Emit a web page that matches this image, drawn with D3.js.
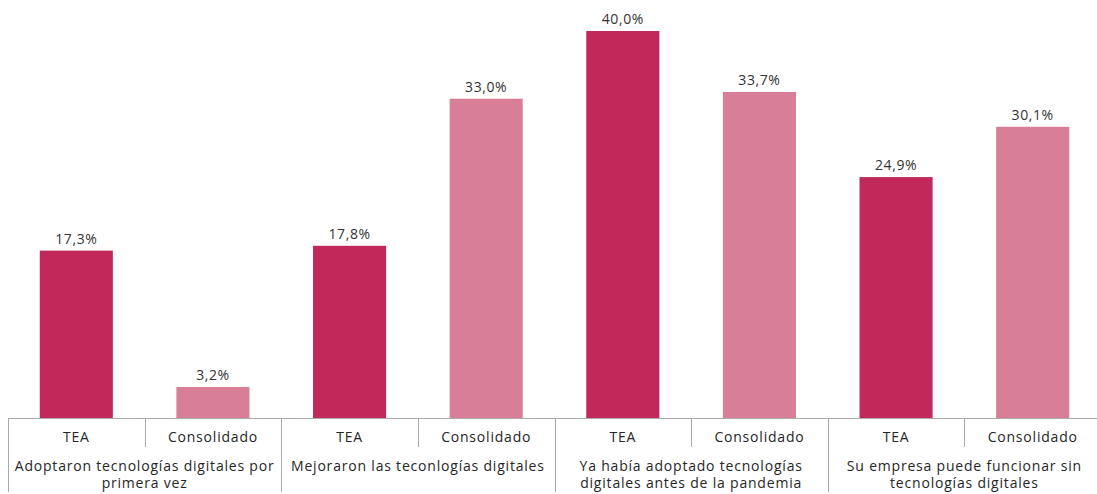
<!DOCTYPE html>
<html><head><meta charset="utf-8">
<script src="https://cdn.jsdelivr.net/npm/d3@7"></script>
<style>body{margin:0;background:#fff;}svg{display:block;font-family:"Open Sans",sans-serif;}</style>
</head><body><svg id="c" width="1097" height="494"></svg>
<script>
const groups = ["Adoptaron tecnologías digitales por\nprimera vez","Mejoraron las teconlogías digitales","Ya había adoptado tecnologías\ndigitales antes de la pandemia","Su empresa puede funcionar sin\ntecnologías digitales"];
const seriesNames = ["TEA","Consolidado"];
const teaValues = [17.3, 17.8, 40.0, 24.9];
const consolidadoValues = [3.2, 33.0, 33.7, 30.1];
const colors = ["#C0295A","#D87E97"];

const svg = d3.select("#c");
const mLeft = 8, mRight = 1101, base = 418, mTop = 31;
const x0 = d3.scaleBand().domain(groups).range([mLeft, mRight]).padding(0);
const x1 = d3.scaleBand().domain(seriesNames).range([0, x0.bandwidth()]).padding(0);
const y = d3.scaleLinear().domain([0, 40]).range([base, mTop]);
const barW = x1.bandwidth() * 0.535;
const fmt = v => d3.format(".1f")(v).replace(".", ",") + "%";

const data = [];
groups.forEach((g, i) => {
  data.push({g, s: "TEA", v: teaValues[i], c: colors[0]});
  data.push({g, s: "Consolidado", v: consolidadoValues[i], c: colors[1]});
});

const gb = svg.append("g");
gb.selectAll("rect").data(data).join("rect")
  .attr("x", d => x0(d.g) + x1(d.s) + (x1.bandwidth() - barW) / 2)
  .attr("width", barW)
  .attr("y", d => y(d.v))
  .attr("height", d => base - y(d.v))
  .attr("fill", d => d.c);

gb.selectAll("text").data(data).join("text")
  .attr("x", d => x0(d.g) + x1(d.s) + x1.bandwidth() / 2)
  .attr("y", d => y(d.v) - 7)
  .attr("text-anchor", "middle")
  .attr("font-size", 14)
  .attr("letter-spacing", 0.6)
  .attr("fill", "#333")
  .text(d => fmt(d.v));

const ax = svg.append("g").attr("stroke", "#aaaaaa").attr("stroke-width", 1);
ax.append("line").attr("x1", mLeft).attr("x2", mRight).attr("y1", base + 0.5).attr("y2", base + 0.5);
groups.forEach((g, i) => {
  const gx = Math.round(x0(g)) + 0.5;
  ax.append("line").attr("x1", gx).attr("x2", gx).attr("y1", base).attr("y2", 492);
  const sx = Math.round(x0(g) + x1("Consolidado")) + 0.5;
  ax.append("line").attr("x1", sx).attr("x2", sx).attr("y1", base).attr("y2", 447);
});
ax.append("line").attr("x1", mRight - 0.5).attr("x2", mRight - 0.5).attr("y1", base).attr("y2", 492);

const lab = svg.append("g").attr("font-size", 14).attr("letter-spacing", 0.8).attr("fill", "#262626").attr("text-anchor", "middle");
groups.forEach(g => {
  seriesNames.forEach(s => {
    lab.append("text").attr("x", x0(g) + x1(s) + x1.bandwidth() / 2).attr("y", 442).text(s);
  });
  const lines = g.split("\n");
  const t = lab.append("text").attr("x", x0(g) + x0.bandwidth() / 2).attr("y", 471);
  lines.forEach((l, k) => t.append("tspan").attr("x", x0(g) + x0.bandwidth() / 2).attr("dy", k ? 17 : 0).text(l));
});
</script></body></html>
